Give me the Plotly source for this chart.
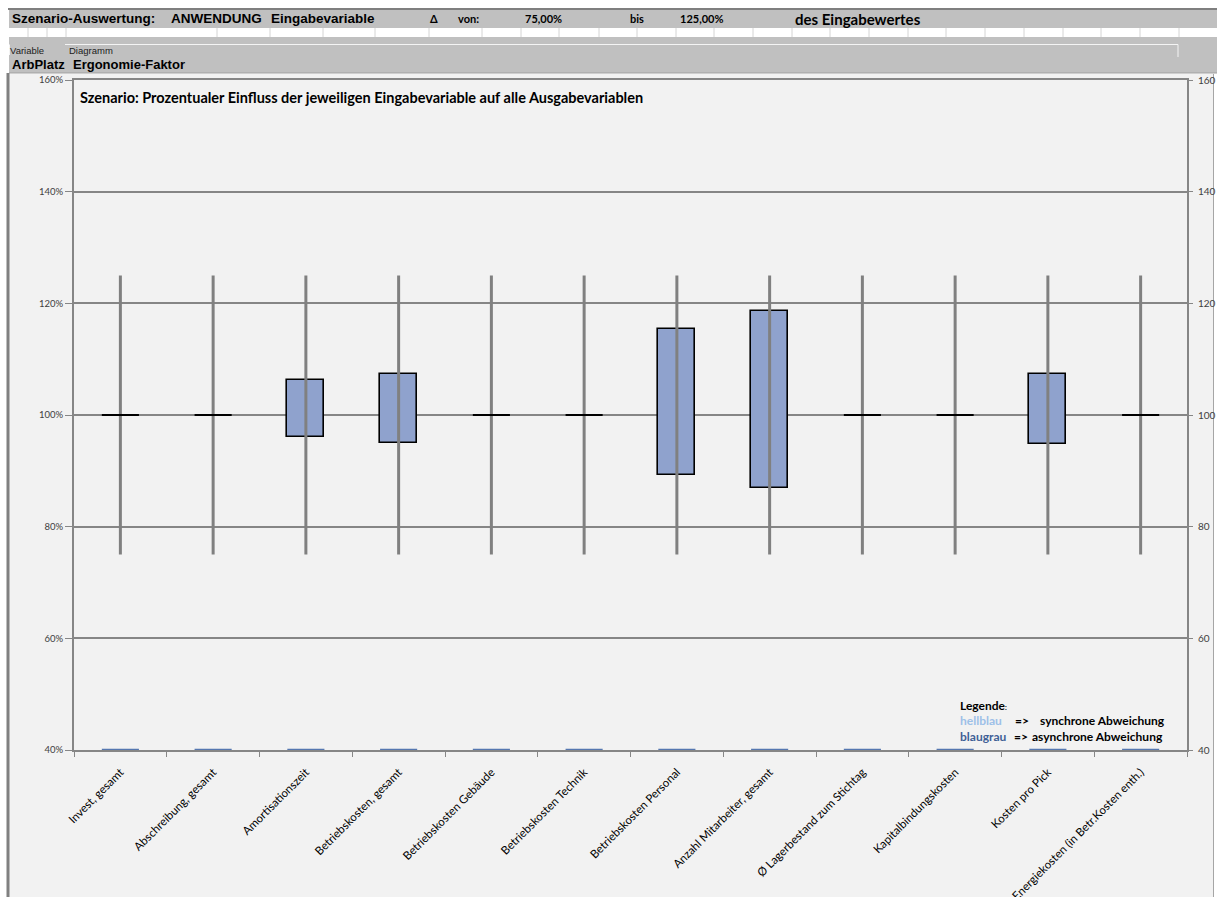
import plotly.graph_objects as go

# ---- data -------------------------------------------------------------
categories = [
    "Invest, gesamt",
    "Abschreibung, gesamt",
    "Amortisationszeit",
    "Betriebskosten, gesamt",
    "Betriebskosten Gebäude",
    "Betriebskosten Technik",
    "Betriebskosten Personal",
    "Anzahl Mitarbeiter, gesamt",
    "Ø Lagerbestand zum Stichtag",
    "Kapitalbindungskosten",
    "Kosten pro Pick",
    "Energiekosten (in Betr.Kosten enth.)",
]
range_min = [75, 75, 75, 75, 75, 75, 75, 75, 75, 75, 75, 75]
range_max = [125, 125, 125, 125, 125, 125, 125, 125, 125, 125, 125, 125]
effect_low = [100, 100, 96.0, 94.9, 100, 100, 89.3, 86.9, 100, 100, 94.8, 100]
effect_high = [100, 100, 106.3, 107.4, 100, 100, 115.4, 118.7, 100, 100, 107.4, 100]
sync_series = [40, 40, 40, 40, 40, 40, 40, 40, 40, 40, 40, 40]
y_ticks = [40, 60, 80, 100, 120, 140, 160]

W, H = 1217, 897
X0, X1, Y0, Y1 = 74, 1187, 80, 750     # plot area in pixels
BOX_W = 0.4
GRID = "#868686"


def px(x):
    return x / W


def py(y):
    return 1 - y / H


fig = go.Figure()
xs = list(range(len(categories)))

# whiskers (full variation range of the input)
wx, wy = [], []
for i, lo, hi in zip(xs, range_min, range_max):
    wx += [i, i, None]
    wy += [lo, hi, None]
fig.add_trace(go.Scatter(x=wx, y=wy, mode="lines", line=dict(color="#808080", width=3),
                         hoverinfo="skip", showlegend=False))

# boxes for outputs that react to the input
bx, bbase, bh = [], [], []
for i, lo, hi in zip(xs, effect_low, effect_high):
    if hi != lo:
        bx.append(i)
        bbase.append(lo)
        bh.append(hi - lo)
fig.add_trace(go.Bar(x=bx, y=bh, base=bbase, width=BOX_W,
                     marker=dict(color="#8FA2CD", line=dict(color="#000000", width=1.6)),
                     hoverinfo="skip", showlegend=False))

# flat markers for outputs without any change
fx, fy = [], []
for i, lo, hi in zip(xs, effect_low, effect_high):
    if hi == lo:
        fx += [i - BOX_W / 2, i + BOX_W / 2, None]
        fy += [lo, lo, None]
fig.add_trace(go.Scatter(x=fx, y=fy, mode="lines", line=dict(color="#000000", width=2),
                         hoverinfo="skip", showlegend=False))

# synchronous-deviation series sitting on the baseline
sx, sy = [], []
for i, v in zip(xs, sync_series):
    sx += [i - BOX_W / 2, i + BOX_W / 2, None]
    sy += [v, v, None]
fig.add_trace(go.Scatter(x=sx, y=sy, mode="lines", line=dict(color="#5577B0", width=2.5),
                         cliponaxis=False, hoverinfo="skip", showlegend=False))

# invisible trace carrying the secondary y axis
fig.add_trace(go.Scatter(x=[0], y=[100], yaxis="y2", mode="markers",
                         marker=dict(opacity=0), hoverinfo="skip", showlegend=False))

shapes = []


def rect(x0, y0, x1, y1, fill, line=None, layer="below"):
    shapes.append(dict(type="rect", xref="paper", yref="paper",
                       x0=px(x0), x1=px(x1), y0=py(y0), y1=py(y1),
                       fillcolor=fill, line=dict(width=0) if line is None else line,
                       layer=layer))


def seg(x0, y0, x1, y1, color, width, layer="below"):
    shapes.append(dict(type="line", xref="paper", yref="paper",
                       x0=px(x0), x1=px(x1), y0=py(y0), y1=py(y1),
                       line=dict(color=color, width=width), layer=layer))


# header bands
seg(8, 9, W, 9, "#7f7f7f", 2)
rect(9, 10, W, 28, "#C0C0C0")
rect(9, 28, W, 37, "#FFFFFF")
for sx_ in [28, 47, 66, 217, 270, 323, 375, 429, 482, 521, 559, 599, 637, 676, 714,
            753, 792, 830, 869, 908, 946, 985, 1024, 1063, 1101, 1140, 1179]:
    seg(sx_, 28, sx_, 37, "#D4D4D4", 1)
rect(9, 37, W, 73, "#C0C0C0")
seg(65, 44.5, 1178, 44.5, "#F4F4F4", 1)
seg(1178, 44.5, 1178, 57, "#F4F4F4", 1)
seg(9.5, 44.5, 9.5, 55, "#F4F4F4", 1)
seg(9, 73, W, 73, "#A0A0A0", 1)

# chart area
rect(9, 74, 1213, H, "#F2F2F2")
seg(8, 73, 8, H, "#808080", 3)
seg(1213.5, 74, 1213.5, H, "#A6A6A6", 1)

annotations = []


def text(x, y, s, size, family="Liberation Sans", color="#000000", bold=True, anchor="left"):
    annotations.append(dict(xref="paper", yref="paper", x=px(x), y=py(y),
                            xanchor=anchor, yanchor="middle", showarrow=False,
                            text=f"<b>{s}</b>" if bold else s,
                            font=dict(family=family, size=size, color=color)))


text(10, 19, "Szenario-Auswertung:", 13.5)
text(169, 19, "ANWENDUNG", 13.5)
text(269, 19, "Eingabevariable", 13.5)
text(428, 19, "Δ", 11, family="Lato")
text(456, 19, "von:", 11, family="Lato")
text(523, 19, "75,00%", 11, family="Lato")
text(628, 19, "bis", 11, family="Lato")
text(678, 19, "125,00%", 11, family="Lato")
text(793, 19, "des Eingabewertes", 15, family="Lato")
text(8, 51, "Variable", 9.5, bold=False, color="#202020")
text(67, 51, "Diagramm", 9.5, bold=False, color="#202020")
text(10, 65, "ArbPlatz", 13)
text(71, 65, "Ergonomie-Faktor", 13)

text(78, 97, "Szenario: Prozentualer Einfluss der jeweiligen Eingabevariable auf alle Ausgabevariablen",
     14.5, family="Lato")

text(958, 705, "Legende<span style='font-size:7px'>:</span>", 12, family="Lato")
text(958, 720, "hellblau", 12, family="Lato", color="#9DC0E8")
text(1013, 720, "=>", 12, family="Lato")
text(1038, 720, "synchrone Abweichung", 12, family="Lato")
text(958, 736, "blaugrau", 12, family="Lato", color="#3F5F96")
text(1012, 736, "=>", 12, family="Lato")
text(1030, 736, "asynchrone Abweichung", 12, family="Lato")

fig.update_layout(
    width=W, height=H,
    margin=dict(l=0, r=0, t=0, b=0),
    paper_bgcolor="#FFFFFF",
    plot_bgcolor="#F2F2F2",
    bargap=0,
    shapes=shapes,
    annotations=annotations,
    font=dict(family="Lato", color="#404040"),
    xaxis=dict(
        domain=[px(X0), px(X1)],
        range=[-0.5, len(categories) - 0.5],
        tickmode="array", tickvals=xs, ticktext=categories,
        tickangle=-45, ticks="", ticklen=0, ticklabelstandoff=9,
        tickfont=dict(family="Lato", size=11.5, color="#000000"),
        showgrid=False, zeroline=False,
        showline=True, mirror=True, linecolor=GRID, linewidth=2,
        layer="below traces",
        minor=dict(tickmode="linear", tick0=-0.5, dtick=1, ticks="outside",
                   ticklen=5, tickcolor=GRID, tickwidth=1, showgrid=False),
        automargin=False, fixedrange=True,
    ),
    yaxis=dict(
        domain=[py(Y1), py(Y0)],
        range=[40, 160],
        tickmode="array", tickvals=y_ticks,
        ticktext=[f"{v}%" for v in y_ticks],
        ticks="outside", ticklen=7, tickcolor=GRID, tickwidth=1,
        tickfont=dict(family="Lato", size=9.5, color="#404040"),
        showgrid=True, gridcolor=GRID, gridwidth=2,
        zeroline=False, showline=True, mirror=True, linecolor=GRID, linewidth=2,
        layer="below traces",
        automargin=False, fixedrange=True,
    ),
    yaxis2=dict(
        overlaying="y", side="right", anchor="x",
        range=[40, 160],
        tickmode="array", tickvals=y_ticks,
        ticktext=[str(v) for v in y_ticks],
        ticks="outside", ticklen=5, tickcolor=GRID, tickwidth=1, ticklabelstandoff=3,
        tickfont=dict(family="Lato", size=10, color="#404040"),
        showgrid=False, zeroline=False, showline=False,
        automargin=False, fixedrange=True,
    ),
)

fig.write_html("out.html")
